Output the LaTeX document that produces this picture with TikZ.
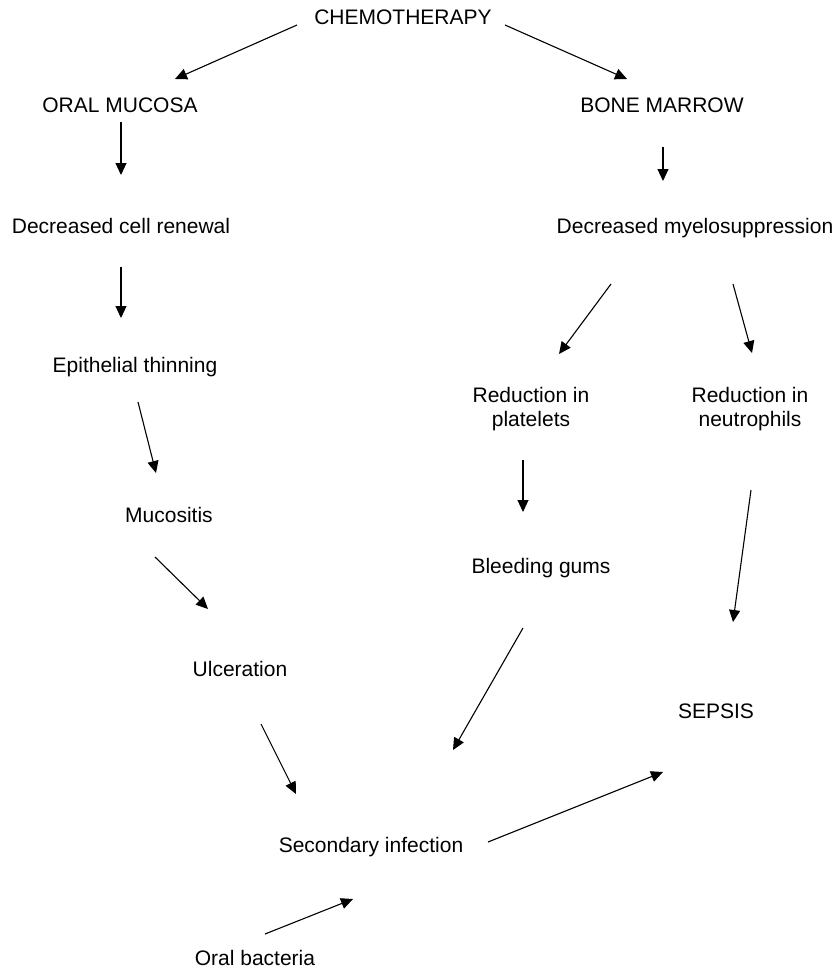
\documentclass[tikz,border=0pt]{standalone}
\usepackage{fontspec}
\setmainfont{Liberation Sans}
\usetikzlibrary{arrows.meta}
% two centred lines whose baseline is that of the first line
\newcommand{\twolines}[2]{\begin{tabular}[t]{@{}c@{}}#1\\#2\end{tabular}}
\begin{document}
\begin{tikzpicture}[x=1pt,y=-1pt,
  label/.style={anchor=base,inner sep=0pt,
    font=\fontsize{21}{24}\selectfont},
  flow/.style={line width=1.1pt,-{Triangle[length=12pt,width=11pt]}}]
\useasboundingbox (0,0) rectangle (836,969);

% --- labels (positioned at their baselines) ---
\node[label] (chemo) at (403,24)  {CHEMOTHERAPY};
\node[label] (oral)  at (120,112) {ORAL MUCOSA};
\node[label] (bone)  at (662,112) {BONE MARROW};
\node[label] (renew) at (121,233) {Decreased cell renewal};
\node[label] (myelo) at (695,233) {Decreased myelosuppression};
\node[label] (thin)  at (135,372) {Epithelial thinning};
\node[label] (muco)  at (169,522) {Mucositis};
\node[label] (ulcer) at (240,676) {Ulceration};
\node[label] (plate) at (531,402) {\twolines{Reduction in}{platelets}};
\node[label] (neutro) at (750,402) {\twolines{Reduction in}{neutrophils}};
\node[label] (bleed) at (541,573) {Bleeding gums};
\node[label] (sepsis) at (716,718) {SEPSIS};
\node[label] (second) at (371,852) {Secondary infection};
\node[label] (bact)  at (255,965) {Oral bacteria};

% --- free-standing arrow ends ---
\coordinate (chemo-l)  at (297,25);  \coordinate (oral-in)   at (175,79);
\coordinate (chemo-r)  at (505,25);  \coordinate (bone-in)   at (627,79);
\coordinate (oral-out) at (121,122); \coordinate (renew-in)  at (121,175);
\coordinate (renew-out) at (121,267); \coordinate (thin-in)  at (121,318);
\coordinate (thin-out) at (138,402); \coordinate (muco-in)   at (156,473);
\coordinate (muco-out) at (155,557); \coordinate (ulcer-in)  at (208,609);
\coordinate (ulcer-out) at (261,724); \coordinate (second-inl) at (296,794);
\coordinate (bone-out) at (663,147); \coordinate (myelo-in)  at (663,181);
\coordinate (myelo-l)  at (611,284); \coordinate (plate-in)  at (559,354);
\coordinate (myelo-r)  at (733,284); \coordinate (neutro-in) at (752,353);
\coordinate (plate-out) at (523,460); \coordinate (bleed-in) at (523,512);
\coordinate (neutro-out) at (751,490); \coordinate (sepsis-in) at (733,622);
\coordinate (bleed-out) at (523,628); \coordinate (second-inr) at (453,750);
\coordinate (second-out) at (488,842); \coordinate (sepsis-inl) at (663,772);
\coordinate (bact-out) at (265,934); \coordinate (second-inb) at (353,899);

% --- connectors ---
\draw[flow] (chemo-l) -- (oral-in);
\draw[flow] (chemo-r) -- (bone-in);
\draw[flow] (oral-out) -- (renew-in);
\draw[flow] (renew-out) -- (thin-in);
\draw[flow] (thin-out) -- (muco-in);
\draw[flow] (muco-out) -- (ulcer-in);
\draw[flow] (ulcer-out) -- (second-inl);
\draw[flow] (bone-out) -- (myelo-in);
\draw[flow] (myelo-l) -- (plate-in);
\draw[flow] (myelo-r) -- (neutro-in);
\draw[flow] (plate-out) -- (bleed-in);
\draw[flow] (neutro-out) -- (sepsis-in);
\draw[flow] (bleed-out) -- (second-inr);
\draw[flow] (second-out) -- (sepsis-inl);
\draw[flow] (bact-out) -- (second-inb);
\end{tikzpicture}
\end{document}
